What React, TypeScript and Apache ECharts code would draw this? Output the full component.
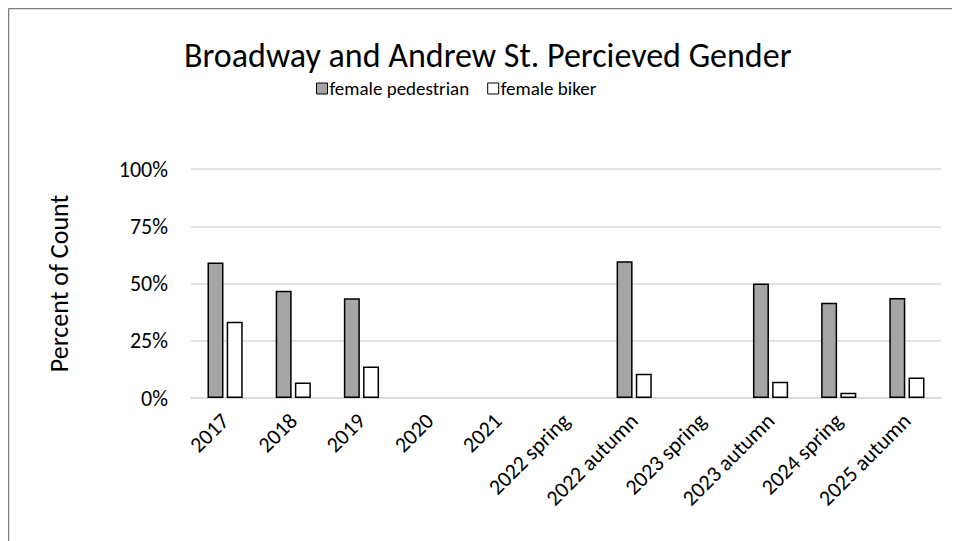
import React, { useEffect, useRef } from "react";
import * as echarts from "echarts";

const categories = [
  "2017", "2018", "2019", "2020", "2021", "2022 spring",
  "2022 autumn", "2023 spring", "2023 autumn", "2024 spring", "2025 autumn",
];
const femalePedestrian = [0.592, 0.468, 0.436, null, null, null, 0.597, null, 0.5, 0.416, 0.437];
const femaleBiker = [0.333, 0.068, 0.138, null, null, null, 0.106, null, 0.071, 0.023, 0.089];
const yTicks = [0, 0.25, 0.5, 0.75, 1];

const FONT = "Carlito, Lato, 'Open Sans', sans-serif";

export default function App() {
  const ref = useRef<HTMLDivElement>(null);
  useEffect(() => {
    if (!ref.current) return;
    const chart = echarts.init(ref.current, undefined, { renderer: "svg" });
    chart.setOption({
      animation: false,
      backgroundColor: "#ffffff",
      textStyle: { fontFamily: FONT },
      title: {
        text: "Broadway and Andrew St. Percieved Gender",
        left: 171,
        top: 25,
        textStyle: { fontFamily: FONT, fontSize: 34, fontWeight: "normal", color: "#000" },
      },
      legend: {
        top: 66,
        left: 303,
        itemWidth: 11,
        itemHeight: 11,
        itemGap: 18,
        icon: "rect",
        textStyle: { fontFamily: FONT, fontSize: 19, color: "#000", padding: [0, 0, 0, -3] },
        data: [
          { name: "female pedestrian", itemStyle: { color: "#a5a5a5", borderColor: "#000", borderWidth: 1 } },
          { name: "female biker", itemStyle: { color: "#ffffff", borderColor: "#000", borderWidth: 1 } },
        ],
      },
      graphic: [
        { type: "line", shape: { x1: 0.5, y1: 0.5, x2: 952, y2: 0.5 }, style: { stroke: "#7f7f7f", lineWidth: 1.5 } },
        { type: "line", shape: { x1: 0.5, y1: 0.5, x2: 0.5, y2: 533 }, style: { stroke: "#7f7f7f", lineWidth: 1.5 } },
      ],
      grid: { left: 183, right: 19, top: 161, bottom: 143, containLabel: false },
      xAxis: {
        type: "category",
        data: categories,
        axisLine: { show: true, lineStyle: { color: "#d9d9d9", width: 1.5 } },
        axisTick: { show: false },
        axisLabel: {
          rotate: 45,
          interval: 0,
          fontFamily: FONT,
          fontSize: 22,
          color: "#000",
          margin: 19,
        },
      },
      yAxis: {
        type: "value",
        min: 0,
        max: 1,
        interval: 0.25,
        name: "Percent of Count",
        nameLocation: "middle",
        nameGap: 119,
        nameRotate: 90,
        nameTextStyle: { fontFamily: FONT, fontSize: 26, color: "#000" },
        axisLine: { show: false },
        axisTick: { show: false },
        splitLine: { lineStyle: { color: "#d9d9d9", width: 1.5 } },
        axisLabel: {
          fontFamily: FONT,
          fontSize: 22,
          color: "#000",
          margin: 23,
          formatter: (v: number) => (yTicks.includes(v) ? Math.round(v * 100) + "%" : ""),
        },
      },
      series: [
        {
          name: "female pedestrian",
          type: "bar",
          data: femalePedestrian,
          barWidth: 16,
          barGap: "20%",
          itemStyle: { color: "#a5a5a5", borderColor: "#000", borderWidth: 1.5 },
        },
        {
          name: "female biker",
          type: "bar",
          data: femaleBiker,
          barWidth: 16,
          barGap: "20%",
          itemStyle: { color: "#ffffff", borderColor: "#000", borderWidth: 1.5 },
        },
      ],
    });
    return () => chart.dispose();
  }, []);
  return <div ref={ref} style={{ width: 952, height: 533 }} />;
}
